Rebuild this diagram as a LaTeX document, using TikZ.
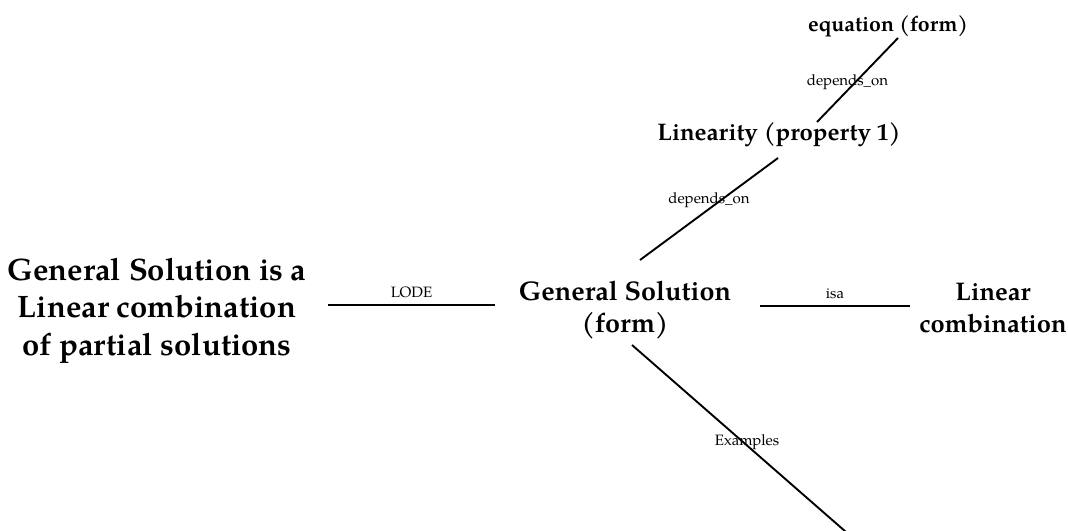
\documentclass[tikz,border=0pt]{standalone}
\usepackage{fontspec}
\setmainfont{texgyrepagella}[Extension=.otf, UprightFont=*-regular, BoldFont=*-bold, ItalicFont=*-italic, BoldItalicFont=*-bolditalic]
\begin{document}
\begin{tikzpicture}[x=1pt,y=-1pt]
\tikzset{
  concept/.style={inner sep=0pt, align=center, anchor=base},
  lbl/.style={inner sep=0pt, font=\fontsize{15}{18}\selectfont},
  link/.style={line width=1.9pt, black}
}
\fill[white] (0,0) rectangle (1068,530);
\useasboundingbox (0,0) rectangle (1068,530);

% base anchor of a multi-line node = baseline of its last line
\node[concept, font=\bfseries\fontsize{31}{37.5}\selectfont] (gsl) at (157,355) {General Solution is a\\Linear combination\\of partial solutions};
\node[concept, font=\bfseries\fontsize{27}{32}\selectfont] (gs) at (625,332) {General Solution\\(form)};
\node[concept, font=\bfseries\fontsize{25.5}{32}\selectfont] (lc) at (993,332) {Linear\\combination};
\node[concept, font=\bfseries\fontsize{24}{30}\selectfont] (lin) at (779,140) {Linearity (property 1)};
\node[concept, font=\bfseries\fontsize{21.3}{26}\selectfont] (eq) at (888,31) {equation (form)};
\coordinate (exend) at (846,532);

\draw[link] ([shift={(10,7)}]eq.base) -- node[lbl, xshift=-10pt, yshift=-2pt]{depends\_on} ([shift={(38,-18)}]lin.base);
\draw[link] ([shift={(-1,18)}]lin.base) -- node[lbl, yshift=9pt]{depends\_on} ([shift={(15,-72)}]gs.base);
\draw[link] ([shift={(7,13)}]gs.base) -- node[lbl, pos=0.519, xshift=4pt]{Examples} (exend);
\draw[link] ([shift={(171,-50)}]gsl.base) -- node[lbl, yshift=13pt]{LODE} ([shift={(-130,-27)}]gs.base);
\draw[link] ([shift={(135,-26)}]gs.base) -- node[lbl, yshift=12pt]{isa} ([shift={(-83,-26)}]lc.base);
\end{tikzpicture}
\end{document}
